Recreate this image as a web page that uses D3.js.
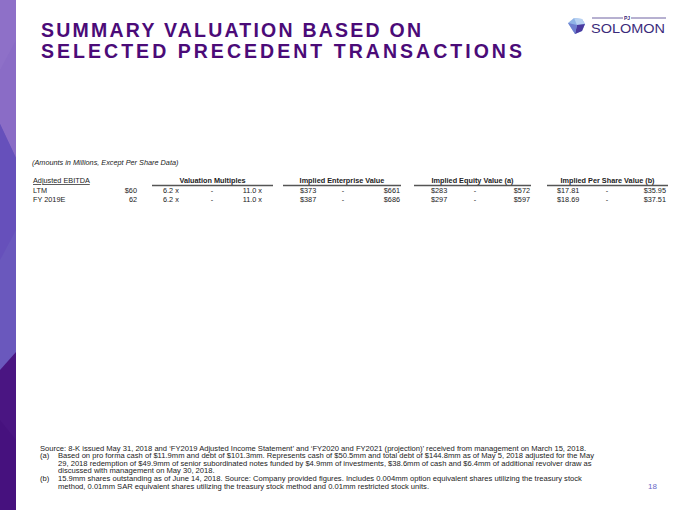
<!DOCTYPE html>
<html><head><meta charset="utf-8">
<script src="https://cdn.jsdelivr.net/npm/d3@7"></script>
<style>
html,body{margin:0;padding:0;background:#fff;}
svg{display:block;font-family:Arial,"Liberation Sans",sans-serif;}
</style></head>
<body>
<script>
// ---- data ----
const rowLabels = ["LTM", "FY 2019E"];
const ebitda = ["$60", "62"];
const multLow = [6.2, 6.2];
const multHigh = [11.0, 11.0];
const evLow = [373, 387];
const evHigh = [661, 686];
const eqLow = [283, 297];
const eqHigh = [572, 597];
const psLow = [17.81, 18.69];
const psHigh = [35.95, 37.51];
const groupHeaders = ["Valuation Multiples", "Implied Enterprise Value", "Implied Equity Value (a)", "Implied Per Share Value (b)"];
const titleLines = ["SUMMARY VALUATION BASED ON", "SELECTED PRECEDENT TRANSACTIONS"];
const noteAmounts = "(Amounts in Millions, Except Per Share Data)";
const footSource = "Source: 8-K issued May 31, 2018 and \u2018FY2019 Adjusted Income Statement\u2019 and \u2018FY2020 and FY2021 (projection)\u2019 received from management on March 15, 2018.";
const footA = ["Based on pro forma cash of $11.9mm and debt of $101.3mm. Represents cash of $50.5mm and total debt of $144.8mm as of May 5, 2018 adjusted for the May",
  "29, 2018 redemption of $49.9mm of senior subordinated notes funded by $4.9mm of investments, $38.6mm of cash and $6.4mm of additional revolver draw as",
  "discussed with management on May 30, 2018."];
const footB = ["15.9mm shares outstanding as of June 14, 2018. Source: Company provided figures. Includes 0.004mm option equivalent shares utilizing the treasury stock",
  "method, 0.01mm SAR equivalent shares utilizing the treasury stock method and 0.01mm restricted stock units."];
const pageNum = "18";

const W = 680, H = 510;
const svg = d3.select("body").append("svg").attr("width", W).attr("height", H);

// ---- left decorative strip ----
const strip = svg.append("g");
strip.append("rect").attr("x",0).attr("y",0).attr("width",16).attr("height",H).attr("fill","#6a58bd");
strip.append("path").attr("d","M0,0 L16,0 L16,158 L0,124 Z").attr("fill","#8a6cc6");
strip.append("path").attr("d","M0,0 L16,0 L16,40 L0,70 Z").attr("fill","#8f72c8").attr("opacity",0.8);
strip.append("path").attr("d","M0,124 L16,158 L16,230 L0,260 Z").attr("fill","#6650bb");
strip.append("path").attr("d","M0,370 L16,352 L16,510 L0,510 Z").attr("fill","#4a1582");
strip.append("path").attr("d","M0,420 L16,440 L16,510 L0,510 Z").attr("fill","#45107c").attr("opacity",0.7);

// ---- title ----
const titleG = svg.append("g").attr("fill","#4b0b78").attr("font-weight","bold").attr("font-size",19.5);
const titleEnds = [421, 522];
titleLines.forEach((t,i)=>{
  titleG.append("text").attr("x",41).attr("y",37 + i*20.5).text(t)
    .attr("textLength", titleEnds[i]-41).attr("lengthAdjust","spacing");
});

// ---- logo ----
const logo = svg.append("g");
logo.append("path").attr("d","M568,23 L574,18 L582,19 L585,24 L582,31 L575,34 Z").attr("fill","#8fb3e6");
logo.append("path").attr("d","M574,18 L582,19 L585,24 L577,25 Z").attr("fill","#b8d2f2");
logo.append("path").attr("d","M577,25 L585,24 L582,31 L575,34 Z").attr("fill","#4a3aa0");
logo.append("path").attr("d","M568,23 L577,25 L575,34 Z").attr("fill","#6f7fd0");
logo.append("line").attr("x1",592).attr("x2",623).attr("y1",18).attr("y2",18).attr("stroke","#4a3a8a").attr("stroke-width",0.8);
logo.append("line").attr("x1",631).attr("x2",666).attr("y1",18).attr("y2",18).attr("stroke","#4a3a8a").attr("stroke-width",0.8);
logo.append("text").attr("x",627).attr("y",20).attr("text-anchor","middle").attr("font-size",5).attr("font-weight","bold").attr("fill","#3a2a7a").text("PJ");
logo.append("text").attr("x",591).attr("y",33).attr("font-size",12).attr("fill","#3a2a7a")
  .attr("textLength",74).attr("lengthAdjust","spacingAndGlyphs").text("SOLOMON");

// ---- amounts note ----
svg.append("text").attr("x",32).attr("y",164.5).attr("font-size",7.3).attr("font-style","italic").attr("fill","#222").text(noteAmounts);

// ---- table ----
const fs = 7.3, tc = "#222";
const y = d3.scalePoint().domain(rowLabels).range([192.5, 202]);
const fmt0 = v => "$" + d3.format(",.0f")(v);
const fmt2 = v => "$" + d3.format(".2f")(v);
const fmtx = v => d3.format(".1f")(v) + " x";

const groups = [
  {header: groupHeaders[0], x0:152, x1:273, left:163, dash:212, right:262, lo:multLow, hi:multHigh, f:fmtx},
  {header: groupHeaders[1], x0:283, x1:401, left:300, dash:343, right:400, lo:evLow, hi:evHigh, f:fmt0},
  {header: groupHeaders[2], x0:414, x1:531, left:431, dash:475, right:530, lo:eqLow, hi:eqHigh, f:fmt0},
  {header: groupHeaders[3], x0:547, x1:668, left:557, dash:607, right:666, lo:psLow, hi:psHigh, f:fmt2}
];
const tbl = svg.append("g").attr("font-size",fs).attr("fill",tc);

// header
tbl.append("text").attr("x",33).attr("y",183).attr("text-decoration","underline").text("Adjusted EBITDA");
const hg = tbl.selectAll("g.hdr").data(groups).join("g").attr("class","hdr");
hg.append("text").attr("x",d=>(d.x0+d.x1)/2).attr("y",183).attr("text-anchor","middle").attr("font-weight","bold").text(d=>d.header);
hg.append("line").attr("x1",d=>d.x0).attr("x2",d=>d.x1).attr("y1",185.5).attr("y2",185.5).attr("stroke","#555").attr("stroke-width",1.6);

// rows
rowLabels.forEach((r,i)=>{
  const yy = y(r);
  tbl.append("text").attr("x",33).attr("y",yy).text(r);
  tbl.append("text").attr("x",137).attr("y",yy).attr("text-anchor","end").text(ebitda[i]);
  groups.forEach(g=>{
    tbl.append("text").attr("x",g.left).attr("y",yy).text(g.f(g.lo[i]));
    tbl.append("text").attr("x",g.dash).attr("y",yy).attr("text-anchor","middle").text("-");
    tbl.append("text").attr("x",g.right).attr("y",yy).attr("text-anchor","end").text(g.f(g.hi[i]));
  });
});

// ---- footnotes ----
const fg = svg.append("g").attr("font-size",7.6).attr("fill",tc);
const lh = 7.6;
fg.append("text").attr("x",40).attr("y",450.5).text(footSource);
fg.append("text").attr("x",40).attr("y",450.5+lh).text("(a)");
footA.forEach((t,i)=>fg.append("text").attr("x",58).attr("y",450.5+lh*(1+i)).text(t));
fg.append("text").attr("x",40).attr("y",450.5+lh*4).text("(b)");
footB.forEach((t,i)=>fg.append("text").attr("x",58).attr("y",450.5+lh*(4+i)).text(t));

svg.append("text").attr("x",657).attr("y",489).attr("text-anchor","end").attr("font-size",8).attr("fill","#6a68c8").text(pageNum);
</script>
</body></html>
